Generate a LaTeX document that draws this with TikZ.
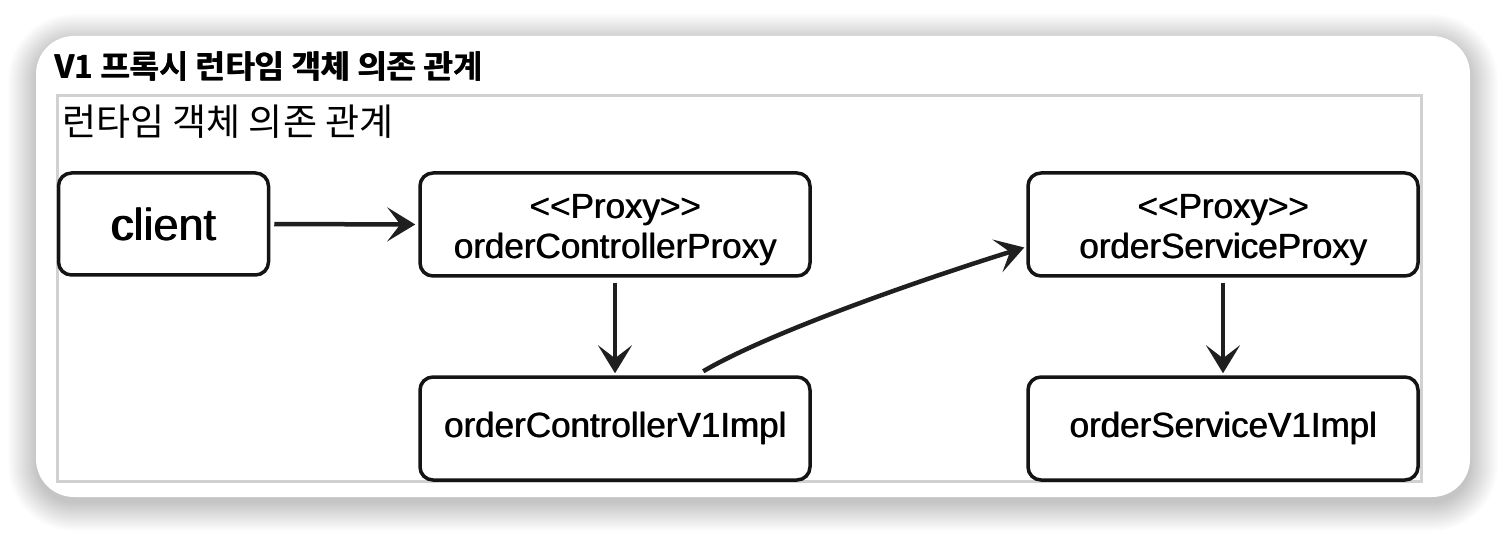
\documentclass[tikz,border=0pt]{standalone}
\usepackage{fontspec}
\setmainfont{Liberation Sans}
\newfontfamily\krb{Noto Sans CJK KR Bold}
\newfontfamily\krn{Noto Sans CJK KR}
\usetikzlibrary{arrows.meta,calc}
\newcommand{\heavytext}[2][0.8pt]{\rlap{\kern#1\relax #2}#2}
\tikzset{
  box/.style={draw=black!92, line width=3.5pt, rounded corners=13pt, inner sep=0pt, align=center,
    font=\fontsize{35}{42}\selectfont},
  link/.style={draw=black!88, line width=4.5pt,
    -{Stealth[length=28pt, width=34pt, inset=13pt]}},
  lbl/.style={inner sep=0pt, anchor=base west}
}
\begin{document}
\begin{tikzpicture}[x=1pt, y=-1pt]
\useasboundingbox (0,0) rectangle (1506,534);
\fill[white] (0,0) rectangle (1506,534);
% card shadow
\foreach \i in {0,...,28}{
  \fill[black, opacity=0.0065, rounded corners={(38+\i)*1pt}]
    ({36-\i},{42-\i}) rectangle ({1470+\i},{503+\i});
}
\fill[white, rounded corners=38pt] (36,36) rectangle (1470,497);
% title
\node[lbl, font=\krb\fontsize{32}{32}\selectfont] (title) at (54,79) {\heavytext[0.9pt]{V1 프록시 런타임 객체 의존 관계}};
% inner frame
\draw[line width=3pt, draw=black!18] (57,96) rectangle (1421,481);
\node[lbl, font=\krn\fontsize{37}{37}\selectfont] (sub) at (62,136) {런타임 객체 의존 관계};
% nodes
\node[box, minimum width=210pt, minimum height=102pt, font=\fontsize{45}{45}\selectfont] (client) at (163.5,224) {\heavytext[1.3pt]{client}};
\node[box, minimum width=390pt, minimum height=103pt] (cproxy) at (615,224.5)
  {\raisebox{-6pt}[\height][\depth]{\begin{tabular}{@{}c@{}}\heavytext{<{}<Proxy>{}>}\\[-2pt]\heavytext{orderControllerProxy}\end{tabular}}};
\node[box, minimum width=390pt, minimum height=103pt] (cimpl) at (615,428.5) {\heavytext{orderControllerV1Impl}};
\node[box, minimum width=390pt, minimum height=103pt] (sproxy) at (1223,224.5)
  {\raisebox{-6pt}[\height][\depth]{\begin{tabular}{@{}c@{}}\heavytext{<{}<Proxy>{}>}\\[-2pt]\heavytext{orderServiceProxy}\end{tabular}}};
\node[box, minimum width=390pt, minimum height=103pt] (simpl) at (1223,428.5) {\heavytext{orderServiceV1Impl}};
% connectors
\draw[link, shorten <=4pt, shorten >=3pt] (client.east) -- (cproxy.west);
\draw[link, shorten <=5pt, shorten >=2pt] (cproxy.south) -- (cimpl.north);
\draw[link, shorten <=5pt, shorten >=2pt] (sproxy.south) -- (simpl.north);
\coordinate (cstart) at ($(cimpl.north west)+(285,-4)$);
\coordinate (cend) at ($(sproxy.west)+(-2,23)$);
\draw[link] (cstart) .. controls +(70,-41) and +(-90,28) .. (cend);
\end{tikzpicture}
\end{document}
